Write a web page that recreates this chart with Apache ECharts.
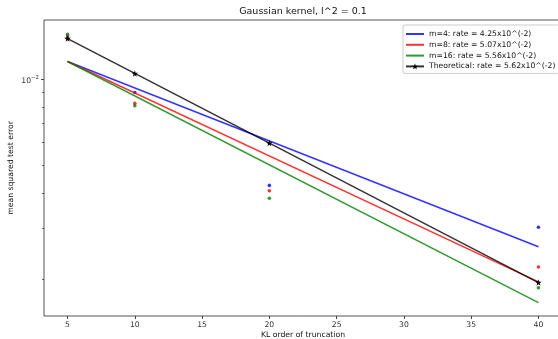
<!DOCTYPE html>
<html>
<head>
<meta charset="utf-8">
<script src="https://cdn.jsdelivr.net/npm/echarts@6/dist/echarts.min.js"></script>
<style>
  html, body {margin: 0; padding: 0; background: #fff;}
  #chart {width: 558px; height: 339px;}
</style>
</head>
<body>
<div id="chart"></div>
<script>
// KL truncation order and measured errors
const klOrder = [5, 10, 20, 40];
const mseM4 = [0.01395, 0.00900, 0.00425, 0.00303];
const mseM8 = [0.01419, 0.00824, 0.00407, 0.00220];
const mseM16 = [0.01438, 0.00808, 0.00383, 0.00186];
const theoretical = [0.0139, 0.01049, 0.00598, 0.00194];

// fitted lines (end points)
const fitX = [5, 40];
const fitM4 = [0.01155, 0.00259];
const fitM8 = [0.01155, 0.00195];
const fitM16 = [0.01155, 0.00165];

const legendNames = [
  'm=4: rate = 4.25x10^(-2)',
  'm=8: rate = 5.07x10^(-2)',
  'm=16: rate = 5.56x10^(-2)',
  'Theoretical: rate = 5.62x10^(-2)'
];

const xTicks = [5, 10, 15, 20, 25, 30, 35, 40];
const yMajor = [0.01];
const yMinor = [0.002, 0.003, 0.004, 0.005, 0.006, 0.007, 0.008, 0.009];
const xRange = [3.25, 41.75];
const yRange = [0.001481, 0.01615];

const FONT = 'DejaVu Sans';
const star = 'path://M50,0 L61,35 L98,35 L68,57 L79,91 L50,70 L21,91 L32,57 L2,35 L39,35 Z';

const pairs = (xs, ys) => xs.map((x, i) => [x, ys[i]]);
const lg = v => Math.log10(v);

const fitLine = (name, xs, ys, color) => ({
  name, type: 'line', data: pairs(xs, ys), symbol: 'none',
  lineStyle: {width: 1.5, color}, itemStyle: {color}, z: 3
});
const dots = (name, ys, color) => ({
  name, type: 'scatter', data: pairs(klOrder, ys),
  symbol: 'circle', symbolSize: 3.6, itemStyle: {color}, z: 2
});

const logTickAxis = (extra) => Object.assign({
  type: 'value', position: 'left',
  min: lg(yRange[0]), max: lg(yRange[1]),
  axisLine: {show: false}, splitLine: {show: false}
}, extra);

// legend: plain line for the fits, line + star for the theory
const legendData = legendNames.map((name, i) => i < 3
  ? {name, itemStyle: {color: 'rgba(0,0,0,0)', borderWidth: 0}}
  : {name});

const myChart = echarts.init(document.getElementById('chart'));
myChart.setOption({
  backgroundColor: '#fff',
  animation: false,
  textStyle: {fontFamily: FONT},
  title: {
    text: 'Gaussian kernel, l^2 = 0.1',
    left: 303, top: 7, padding: 0, textAlign: 'center',
    textStyle: {fontFamily: FONT, fontSize: 9.5, fontWeight: 'normal', color: '#111'}
  },
  legend: {
    data: legendData,
    orient: 'vertical',
    left: 403, top: 25,
    padding: [5, 4, 3, 2],
    itemWidth: 18, itemHeight: 8, itemGap: 2.8,
    backgroundColor: '#fff',
    borderColor: '#ccc', borderWidth: 1, borderRadius: 2,
    textStyle: {fontFamily: FONT, fontSize: 7.7, color: '#111'}
  },
  grid: {
    left: 44, top: 20, right: -4, bottom: 23,
    containLabel: false, outerBoundsMode: 'none',
    show: true, borderColor: '#555', borderWidth: 1, backgroundColor: 'transparent'
  },
  xAxis: {
    type: 'value', min: xRange[0], max: xRange[1],
    name: 'KL order of truncation', nameLocation: 'middle', nameGap: 15, nameMoveOverlap: false,
    nameTextStyle: {fontFamily: FONT, fontSize: 7.7, color: '#111'},
    axisLine: {show: false},
    axisTick: {show: true, inside: false, length: 3, customValues: xTicks, lineStyle: {color: '#444'}},
    axisLabel: {customValues: xTicks, margin: 5, fontFamily: FONT, fontSize: 7.7, color: '#333'},
    splitLine: {show: false}
  },
  yAxis: [
    {
      type: 'log', logBase: 10, min: yRange[0], max: yRange[1],
      axisLine: {show: false}, axisTick: {show: false},
      axisLabel: {show: false}, splitLine: {show: false}
    },
    logTickAxis({
      axisTick: {show: true, length: 1.8, customValues: yMinor.map(lg), lineStyle: {color: '#444'}},
      axisLabel: {show: false}
    }),
    logTickAxis({
      name: 'mean squared test error', nameLocation: 'middle', nameGap: 29, nameMoveOverlap: false,
      nameTextStyle: {fontFamily: FONT, fontSize: 7.7, color: '#111'},
      axisTick: {show: true, length: 3, customValues: yMajor.map(lg), lineStyle: {color: '#444'}},
      axisLabel: {
        customValues: yMajor.map(lg), margin: 5,
        formatter: v => '{b|10}{s|−' + Math.round(-v) + '}',
        rich: {
          b: {fontFamily: FONT, fontSize: 7.7, color: '#333', padding: [3, 0, 0, 0]},
          s: {fontFamily: FONT, fontSize: 5.4, color: '#333', padding: [0, 0, 3, 0]}
        }
      }
    })
  ],
  series: [
    dots('m=4 pts', mseM4, '#0000ff'),
    dots('m=8 pts', mseM8, '#ff0000'),
    dots('m=16 pts', mseM16, '#008000'),
    fitLine(legendNames[0], fitX, fitM4, 'rgba(0,0,255,0.8)'),
    fitLine(legendNames[1], fitX, fitM8, 'rgba(255,0,0,0.8)'),
    fitLine(legendNames[2], fitX, fitM16, 'rgba(0,128,0,0.8)'),
    {
      name: legendNames[3], type: 'line', data: pairs(klOrder, theoretical),
      symbol: star, symbolSize: 6.5, showAllSymbol: true,
      lineStyle: {width: 1.5, color: 'rgba(0,0,0,0.8)'},
      itemStyle: {color: '#000'}, z: 4
    }
  ]
});
</script>
</body>
</html>
